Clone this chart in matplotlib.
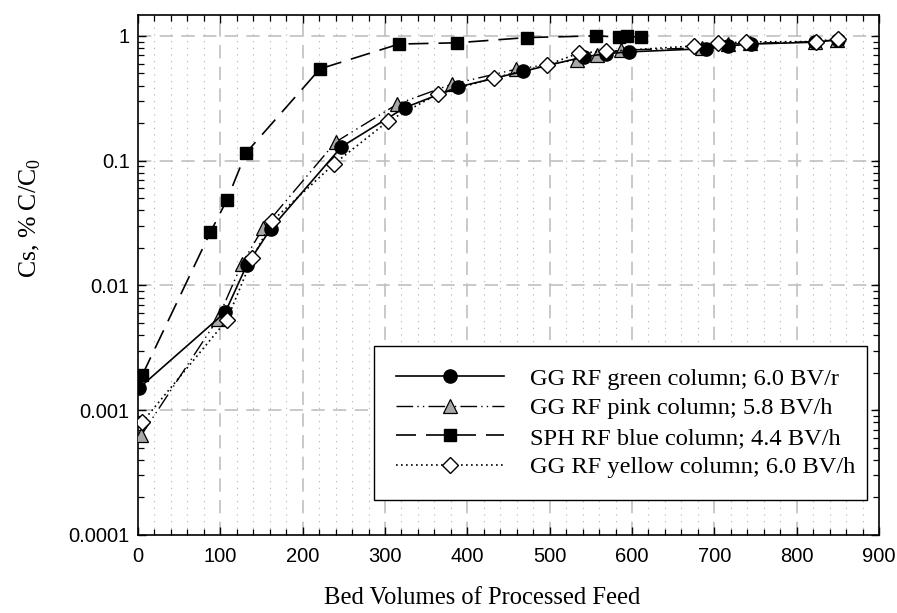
import matplotlib
matplotlib.use("Agg")
import matplotlib.pyplot as plt
from matplotlib.ticker import FixedLocator, LogLocator, NullFormatter, FixedFormatter

# bed volumes (x) and Cs % C/C0 (y) per column
green_bv = [1, 106, 132, 161, 247, 324, 389, 468, 542, 569, 596, 690, 716, 745, 822, 850]
green_c = [0.0015, 0.0061, 0.0145, 0.0283, 0.129, 0.266, 0.39, 0.52, 0.68, 0.72, 0.744,
           0.79, 0.83, 0.86, 0.89, 0.93]

pink_bv = [4, 97, 126, 152, 240, 315, 381, 459, 533, 558, 587, 685, 716, 743, 822, 849]
pink_c = [0.00063, 0.0054, 0.0149, 0.0289, 0.141, 0.284, 0.41, 0.54, 0.64, 0.70, 0.77,
          0.80, 0.86, 0.87, 0.90, 0.93]

blue_bv = [5, 88, 108, 131, 221, 317, 387, 473, 556, 584, 594, 611]
blue_c = [0.0019, 0.0268, 0.0484, 0.115, 0.544, 0.86, 0.88, 0.97, 1.0, 0.98, 0.99, 0.98]

yellow_bv = [5, 108, 139, 163, 238, 304, 364, 432, 497, 536, 568, 675, 705, 738, 823, 850]
yellow_c = [0.0008, 0.0053, 0.0166, 0.0329, 0.094, 0.208, 0.341, 0.46, 0.585, 0.73, 0.75,
            0.83, 0.87, 0.895, 0.90, 0.95]

labels = ["GG RF green column; 6.0 BV/r", "GG RF pink column; 5.8 BV/h",
          "SPH RF blue column; 4.4 BV/h", "GG RF yellow column; 6.0 BV/h"]

x_ticks = [0, 100, 200, 300, 400, 500, 600, 700, 800, 900]
y_ticks = [0.0001, 0.001, 0.01, 0.1, 1]
y_ticklabels = ["0.0001", "0.001", "0.01", "0.1", "1"]

serif = ["Liberation Serif", "DejaVu Serif"]
sans = ["Liberation Sans", "DejaVu Sans"]


def main():
    fig = plt.figure(figsize=(8.97, 6.13), dpi=100)
    ax = fig.add_axes([138 / 897, 1 - 535 / 613, 741 / 897, 520 / 613])

    # grid: dashed majors, dotted x minors only
    for x in x_ticks[1:-1]:
        ax.axvline(x, color="#c0c0c0", lw=1.2, ls=(0, (8, 5)), zorder=0)
    for y in y_ticks[1:]:
        ax.axhline(y, color="#c0c0c0", lw=1.2, ls=(0, (8, 5)), zorder=0)
    for x in range(20, 900, 20):
        if x % 100:
            ax.axvline(x, color="#b0b0b0", lw=0.8, ls=(0, (1, 5)), zorder=0)

    ms = 9.5
    ax.plot(green_bv, green_c, color="black", lw=1.2, ls="-", marker="o",
            ms=ms, mfc="black", mec="black", label=labels[0], zorder=5)
    ax.plot(pink_bv, pink_c, color="black", lw=1.0, ls=(0, (12, 3, 1, 3, 1, 3)),
            marker="^", ms=ms, mfc="#a8a8a8", mec="black", mew=0.9,
            label=labels[1], zorder=4)
    ax.plot(blue_bv, blue_c, color="black", lw=1.2, ls=(0, (12, 6)), marker="s",
            ms=ms - 0.5, mfc="black", mec="black", label=labels[2], zorder=3)
    ax.plot(yellow_bv, yellow_c, color="black", lw=1.2, ls=(0, (1, 2)), marker="D",
            ms=ms - 1.5, mfc="white", mec="black", mew=1.0,
            label=labels[3], zorder=6)

    ax.set_yscale("log")
    ax.set_xlim(0, 900)
    ax.set_ylim(0.0001, 1.47)

    ax.xaxis.set_major_locator(FixedLocator(x_ticks))
    ax.xaxis.set_minor_locator(FixedLocator(range(0, 901, 20)))
    ax.yaxis.set_major_locator(FixedLocator(y_ticks))
    ax.yaxis.set_major_formatter(FixedFormatter(y_ticklabels))
    ax.yaxis.set_minor_locator(LogLocator(base=10, subs=range(2, 10)))
    ax.yaxis.set_minor_formatter(NullFormatter())

    ax.tick_params(which="both", direction="in", top=True, right=True, color="black")
    ax.tick_params(which="major", length=6, width=1.0, labelsize=14.5, pad=6)
    ax.tick_params(axis="x", which="major", pad=9)
    ax.tick_params(which="minor", length=4, width=0.9)
    for lbl in ax.get_xticklabels() + ax.get_yticklabels():
        lbl.set_family(sans)
    for sp in ax.spines.values():
        sp.set_linewidth(1.2)

    ax.set_xlabel("Bed Volumes of Processed Feed", family=serif, fontsize=17.7, va="center")
    ax.xaxis.set_label_coords(0.464, -0.121)
    ax.set_ylabel("Cs, % C/C$_\\mathregular{0}$", family=serif, fontsize=18.5, va="center")
    ax.yaxis.set_label_coords(-0.145, 0.61)

    leg = ax.legend(loc="lower left", bbox_to_anchor=(0.3185, 0.067, 0.665, 0.293),
                    mode="expand", numpoints=1, handlelength=4.4, fancybox=False,
                    framealpha=1, edgecolor="black", borderpad=0.9, labelspacing=0.3,
                    handletextpad=1.1, borderaxespad=0,
                    prop={"family": serif, "size": 17.6})
    leg.get_frame().set_linewidth(1.0)
    leg.set_zorder(10)

    fig.savefig("out.png", dpi=100)


if __name__ == "__main__":
    main()
